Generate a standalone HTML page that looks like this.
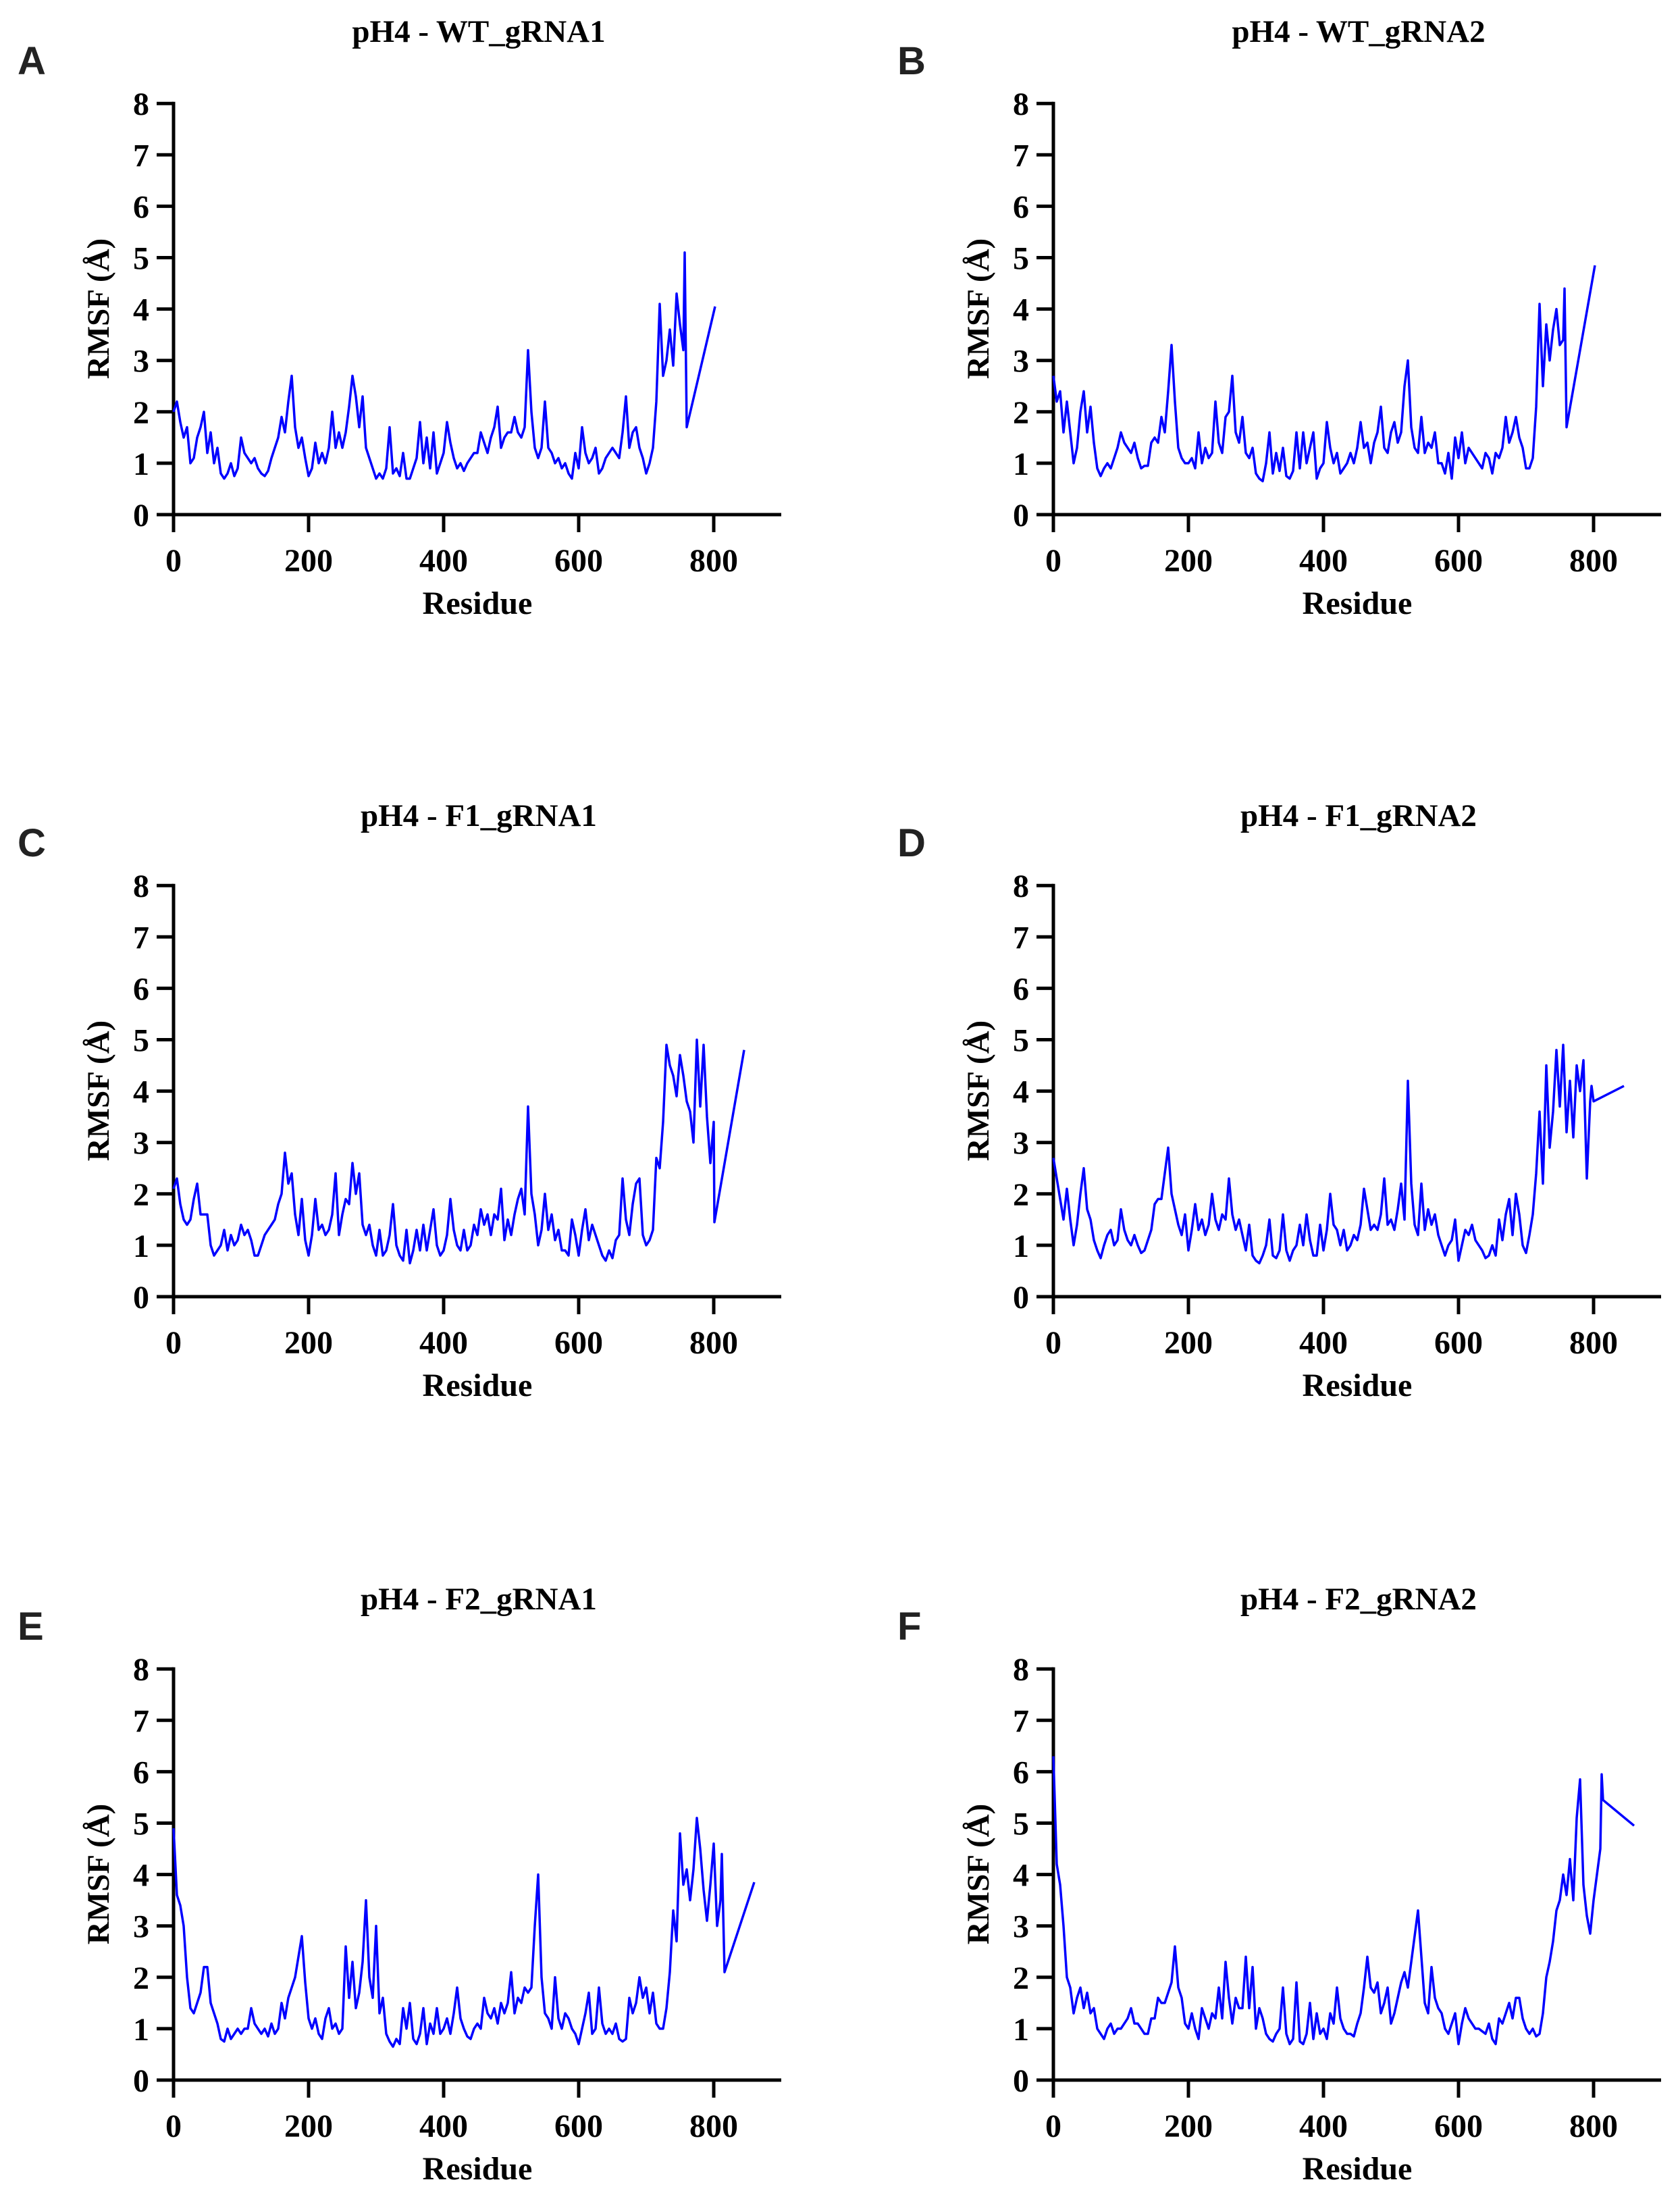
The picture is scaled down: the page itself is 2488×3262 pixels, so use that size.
<!DOCTYPE html>
<html><head><meta charset="utf-8"><style>
html,body{margin:0;padding:0;background:#fff;}
svg{display:block;}
text{font-family:"Liberation Serif",serif;font-weight:bold;fill:#000;}
.lt{font-family:"Liberation Sans",sans-serif;font-weight:bold;fill:#222;font-size:58px;}
</style></head><body>
<svg id="fig" width="2488" height="3262" viewBox="0 0 2488 3262" xmlns="http://www.w3.org/2000/svg"></svg>
<script>
const panelLetters = ["A","B","C","D","E","F"];
const panelTitles = ["pH4 - WT_gRNA1","pH4 - WT_gRNA2","pH4 - F1_gRNA1","pH4 - F1_gRNA2","pH4 - F2_gRNA1","pH4 - F2_gRNA2"];
const yTicks = [0,1,2,3,4,5,6,7,8];
const xTicks = [0,200,400,600,800];
const bodyStep = 5;
const valuesA = [2.0,2.2,1.8,1.5,1.7,1.0,1.1,1.5,1.7,2.0,1.2,1.6,1.0,1.3,0.8,0.7,0.8,1.0,0.75,0.9,1.5,1.2,1.1,1.0,1.1,0.9,0.8,0.75,0.85,1.1,1.3,1.5,1.9,1.6,2.2,2.7,1.7,1.3,1.5,1.1,0.75,0.9,1.4,1.0,1.2,1.0,1.3,2.0,1.3,1.6,1.3,1.6,2.1,2.7,2.3,1.7,2.3,1.3,1.1,0.9,0.7,0.8,0.7,0.9,1.7,0.8,0.9,0.75,1.2,0.7,0.7,0.9,1.1,1.8,1.0,1.5,0.9,1.6,0.8,1.0,1.2,1.8,1.4,1.1,0.9,1.0,0.85,1.0,1.1,1.2,1.2,1.6,1.4,1.2,1.5,1.7,2.1,1.3,1.5,1.6,1.6,1.9,1.6,1.5,1.7,3.2,2.0,1.3,1.1,1.3,2.2,1.3,1.2,1.0,1.1,0.9,1.0,0.8,0.7,1.2,0.9,1.7,1.2,1.0,1.1,1.3,0.8,0.9,1.1,1.2,1.3,1.2,1.1,1.6,2.3,1.3,1.6,1.7,1.3,1.1,0.8,1.0,1.3,2.2,4.1,2.7,3.0,3.6,2.9,4.3,3.7,3.2];
const tailXA = [757,760,802];
const tailYA = [5.1,1.7,4.05];
const valuesB = [2.7,2.2,2.4,1.6,2.2,1.6,1.0,1.3,2.0,2.4,1.6,2.1,1.4,0.9,0.75,0.9,1.0,0.9,1.1,1.3,1.6,1.4,1.3,1.2,1.4,1.1,0.9,0.95,0.95,1.4,1.5,1.4,1.9,1.6,2.4,3.3,2.2,1.3,1.1,1.0,1.0,1.1,0.9,1.6,1.0,1.3,1.1,1.2,2.2,1.4,1.2,1.9,2.0,2.7,1.6,1.4,1.9,1.2,1.1,1.3,0.8,0.7,0.65,1.0,1.6,0.8,1.2,0.85,1.3,0.75,0.7,0.85,1.6,0.9,1.6,1.0,1.3,1.6,0.7,0.9,1.0,1.8,1.3,1.0,1.2,0.8,0.9,1.0,1.2,1.0,1.3,1.8,1.3,1.4,1.0,1.4,1.6,2.1,1.3,1.2,1.6,1.8,1.4,1.6,2.5,3.0,1.7,1.3,1.2,1.9,1.2,1.4,1.3,1.6,1.0,1.0,0.8,1.2,0.7,1.5,1.1,1.6,1.0,1.3,1.2,1.1,1.0,0.9,1.2,1.1,0.8,1.2,1.1,1.3,1.9,1.4,1.6,1.9,1.5,1.3,0.9,0.9,1.1,2.1,4.1,2.5,3.7,3.0,3.6,4.0,3.3,3.4];
const tailXB = [757,760,802];
const tailYB = [4.4,1.7,4.85];
const valuesC = [2.1,2.3,1.8,1.5,1.4,1.5,1.9,2.2,1.6,1.6,1.6,1.0,0.8,0.9,1.0,1.3,0.9,1.2,1.0,1.1,1.4,1.2,1.3,1.1,0.8,0.8,1.0,1.2,1.3,1.4,1.5,1.8,2.0,2.8,2.2,2.4,1.6,1.2,1.9,1.1,0.8,1.2,1.9,1.3,1.4,1.2,1.3,1.6,2.4,1.2,1.6,1.9,1.8,2.6,2.0,2.4,1.4,1.2,1.4,1.0,0.8,1.3,0.8,0.9,1.2,1.8,1.0,0.8,0.7,1.3,0.65,0.9,1.3,0.9,1.4,0.9,1.3,1.7,1.0,0.8,0.9,1.2,1.9,1.3,1.0,0.9,1.3,0.9,1.0,1.4,1.2,1.7,1.4,1.6,1.2,1.6,1.5,2.1,1.1,1.5,1.2,1.6,1.9,2.1,1.6,3.7,2.0,1.6,1.0,1.3,2.0,1.3,1.6,1.1,1.3,0.9,0.9,0.8,1.5,1.2,0.8,1.3,1.7,1.1,1.4,1.2,1.0,0.8,0.7,0.9,0.75,1.1,1.2,2.3,1.5,1.2,1.8,2.2,2.3,1.2,1.0,1.1,1.3,2.7,2.5,3.4,4.9,4.5,4.3,3.9,4.7,4.3,3.8,3.6,3.0,5.0,3.7,4.9,3.5,2.6];
const tailXC = [800,801,845];
const tailYC = [3.4,1.45,4.8];
const valuesD = [2.7,2.3,1.9,1.5,2.1,1.5,1.0,1.4,2.0,2.5,1.7,1.5,1.1,0.9,0.75,1.0,1.2,1.3,1.0,1.1,1.7,1.3,1.1,1.0,1.2,1.0,0.85,0.9,1.1,1.3,1.8,1.9,1.9,2.4,2.9,2.0,1.7,1.4,1.2,1.6,0.9,1.3,1.8,1.3,1.5,1.2,1.4,2.0,1.5,1.3,1.6,1.5,2.3,1.6,1.3,1.5,1.2,0.9,1.4,0.8,0.7,0.65,0.8,1.0,1.5,0.8,0.75,0.9,1.6,0.9,0.7,0.9,1.0,1.4,1.0,1.6,1.1,0.8,0.8,1.4,0.9,1.3,2.0,1.4,1.3,1.0,1.3,0.9,1.0,1.2,1.1,1.4,2.1,1.7,1.3,1.4,1.3,1.6,2.3,1.4,1.5,1.3,1.7,2.2,1.5,4.2,2.2,1.4,1.2,2.2,1.3,1.7,1.4,1.6,1.2,1.0,0.8,1.0,1.1,1.5,0.7,1.0,1.3,1.2,1.4,1.1,1.0,0.9,0.75,0.8,1.0,0.8,1.5,1.1,1.6,1.9,1.2,2.0,1.6,1.0,0.85,1.2,1.6,2.4,3.6,2.2,4.5,2.9,3.6,4.8,3.7,4.9,3.2,4.2,3.1,4.5,4.0,4.6];
const tailXD = [790,795,797,800,845];
const tailYD = [2.3,3.8,4.1,3.8,4.1];
const valuesE = [4.9,3.6,3.4,3.0,2.0,1.4,1.3,1.5,1.7,2.2,2.2,1.5,1.3,1.1,0.8,0.75,1.0,0.8,0.9,1.0,0.9,1.0,1.0,1.4,1.1,1.0,0.9,1.0,0.85,1.1,0.9,1.0,1.5,1.2,1.6,1.8,2.0,2.4,2.8,1.9,1.2,1.0,1.2,0.9,0.8,1.2,1.4,1.0,1.1,0.9,1.0,2.6,1.6,2.3,1.4,1.7,2.3,3.5,2.0,1.6,3.0,1.3,1.6,0.9,0.75,0.65,0.8,0.7,1.4,1.0,1.5,0.8,0.7,0.9,1.4,0.7,1.1,0.9,1.4,0.9,1.0,1.2,0.9,1.3,1.8,1.2,1.0,0.85,0.8,1.0,1.1,1.0,1.6,1.3,1.2,1.4,1.1,1.5,1.3,1.5,2.1,1.3,1.6,1.5,1.8,1.7,1.8,3.0,4.0,2.0,1.3,1.2,1.0,2.0,1.2,1.0,1.3,1.2,1.0,0.9,0.7,1.0,1.3,1.7,0.9,1.0,1.8,1.1,0.9,1.0,0.9,1.1,0.8,0.75,0.8,1.6,1.3,1.5,2.0,1.6,1.8,1.3,1.7,1.1,1.0,1.0,1.4,2.1,3.3,2.7,4.8,3.8,4.1,3.5,4.1,5.1,4.5,3.7,3.1,3.8,4.6,3.0,3.5];
const tailXE = [812,816,860];
const tailYE = [4.4,2.1,3.85];
const valuesF = [6.3,4.2,3.8,3.0,2.0,1.8,1.3,1.6,1.8,1.4,1.7,1.3,1.4,1.0,0.9,0.8,1.0,1.1,0.9,1.0,1.0,1.1,1.2,1.4,1.1,1.1,1.0,0.9,0.9,1.2,1.2,1.6,1.5,1.5,1.7,1.9,2.6,1.8,1.6,1.1,1.0,1.3,1.0,0.8,1.4,1.2,1.0,1.3,1.2,1.8,1.2,2.3,1.6,1.1,1.6,1.4,1.4,2.4,1.4,2.2,1.0,1.4,1.2,0.9,0.8,0.75,0.9,1.0,1.8,0.9,0.7,0.8,1.9,0.75,0.7,0.9,1.5,0.8,1.3,0.9,1.0,0.8,1.3,1.1,1.8,1.2,1.0,0.9,0.9,0.85,1.1,1.3,1.8,2.4,1.8,1.7,1.9,1.3,1.5,1.8,1.1,1.3,1.6,1.9,2.1,1.8,2.3,2.8,3.3,2.4,1.5,1.3,2.2,1.6,1.4,1.3,1.0,0.9,1.1,1.3,0.7,1.1,1.4,1.2,1.1,1.0,1.0,0.95,0.9,1.1,0.8,0.7,1.2,1.1,1.3,1.5,1.2,1.6,1.6,1.2,1.0,0.9,1.0,0.85,0.9,1.3,2.0,2.3,2.7,3.3,3.5,4.0,3.6,4.3,3.5,5.1,5.85,3.8,3.2,2.85,3.5,4.0,4.5];
const tailXF = [812,814,860];
const tailYF = [5.95,5.45,4.95];

const allValues = [valuesA,valuesB,valuesC,valuesD,valuesE,valuesF];
const allTailX = [tailXA,tailXB,tailXC,tailXD,tailXE,tailXF];
const allTailY = [tailYA,tailYB,tailYC,tailYD,tailYE,tailYF];

const NS = "http://www.w3.org/2000/svg";
const svg = document.getElementById("fig");
const colX = [257, 1560];
const rowY = [762, 1920, 3080];
const titleShift = [0, 3, 3];
const pxPerRes = 1.0;
const pxPerUnit = 76.1;

function mk(tag, attrs, parent) {
  const e = document.createElementNS(NS, tag);
  for (const k in attrs) e.setAttribute(k, attrs[k]);
  parent.appendChild(e);
  return e;
}

for (let p = 0; p < 6; p++) {
  const row = Math.floor(p / 2);
  const ox = colX[p % 2], oy = rowY[row];
  const xs = r => ox + r * pxPerRes;
  const ys = v => oy - v * pxPerUnit;
  const g = mk("g", {}, svg);
  
  

  const lt = mk("text", {x: ox - 231, y: oy - 652, class: "lt"}, g);
  lt.textContent = panelLetters[p];
  
  

  const ti = mk("text", {x: ox + 452, y: oy - 700 + titleShift[row], "text-anchor": "middle", "font-size": 47}, g);
  ti.textContent = panelTitles[p];
  
  

  const ya = mk("line", {x1: ox, y1: ys(8) - 2.5, x2: ox, y2: oy + 26, stroke: "#000", "stroke-width": 5}, g);
  
  
  const xa = mk("line", {x1: ox - 25, y1: oy, x2: xs(900), y2: oy, stroke: "#000", "stroke-width": 5}, g);
  
  

  for (const t of yTicks) {
    const tk = mk("line", {x1: ox - 25, y1: ys(t), x2: ox, y2: ys(t), stroke: "#000", "stroke-width": 5}, g);
    
    
    const tl = mk("text", {x: ox - 36, y: ys(t) + 17, "text-anchor": "end", "font-size": 48}, g);
    tl.textContent = t;
    
    
  }
  for (const t of xTicks) {
    const tk = mk("line", {x1: xs(t), y1: oy, x2: xs(t), y2: oy + 26, stroke: "#000", "stroke-width": 5}, g);
    
    
    const tl = mk("text", {x: xs(t), y: oy + 84, "text-anchor": "middle", "font-size": 48}, g);
    tl.textContent = t;
    
    
  }
  const xt = mk("text", {x: ox + 450, y: oy + 147, "text-anchor": "middle", "font-size": 48}, g);
  xt.textContent = "Residue";
  
  
  const yt = mk("text", {x: 0, y: 0, "text-anchor": "middle", "font-size": 47, transform: "translate(" + (ox - 96) + "," + (oy - 305) + ") rotate(-90)"}, g);
  yt.textContent = "RMSF (Å)";
  
  

  const vals = allValues[p];
  const pts = [];
  for (let i = 0; i < vals.length; i++) pts.push(xs(i * bodyStep).toFixed(1) + "," + ys(vals[i]).toFixed(1));
  const tx = allTailX[p], ty = allTailY[p];
  for (let i = 0; i < tx.length; i++) pts.push(xs(tx[i]).toFixed(1) + "," + ys(ty[i]).toFixed(1));
  const ln = mk("polyline", {points: pts.join(" "), fill: "none", stroke: "#0000ff", "stroke-width": 3.5, "stroke-linejoin": "round"}, g);
  
  
}
</script>
</body></html>
